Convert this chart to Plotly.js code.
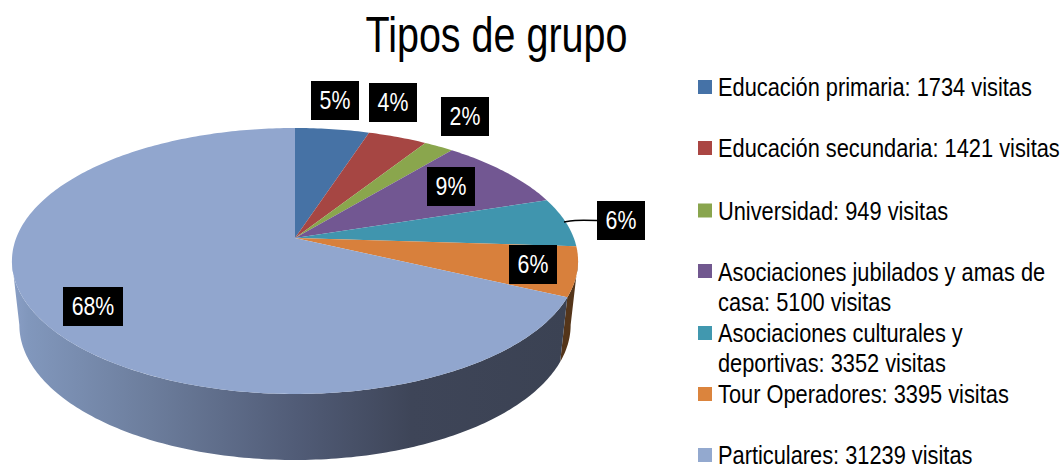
<!DOCTYPE html>
<html>
<head>
<meta charset="utf-8">
<script src="https://cdn.plot.ly/plotly-3.0.1.min.js"></script>
<style>html,body{margin:0;padding:0;background:#fff}#chart{width:1062px;height:464px}</style>
</head>
<body>
<div id="chart"></div>
<script>
// ---- data ----
var chartTitle = 'Tipos de grupo';
var categories = ['Educación primaria', 'Educación secundaria', 'Universidad',
  'Asociaciones jubilados y amas de casa', 'Asociaciones culturales y deportivas',
  'Tour Operadores', 'Particulares'];
var shares = [5, 4, 2, 9, 6, 6, 68];
var visits = [1734, 1421, 949, 5100, 3352, 3395, 31239];
var legendLines = [
  ['Educación primaria: 1734 visitas'],
  ['Educación secundaria: 1421 visitas'],
  ['Universidad: 949 visitas'],
  ['Asociaciones jubilados y amas de', 'casa: 5100 visitas'],
  ['Asociaciones culturales y', 'deportivas: 3352 visitas'],
  ['Tour Operadores: 3395 visitas'],
  ['Particulares: 31239 visitas']
];
// ---- styles and positions ----
var colors = ['#4672A5', '#A64643', '#8AA64D', '#725792', '#4095AE', '#D8803C', '#91A6CE'];
var legendColors = ['#4572A7', '#AA4643', '#89A54E', '#71588F', '#4198AF', '#DB843D', '#93A9CF'];
var FONT = '"Liberation Sans",Arial,sans-serif';
// the reference's type is horizontally condensed
var narrowLegend = 0.855, narrowLabel = 0.82, narrowTitle = 0.79;
var legendFontSize = 25.5, labelFontSize = 26, titleFontSize = 50;
var labelX = [335, 393, 465, 451, 621, 533, 93];
var labelY = [100.5, 102.5, 116.5, 186.5, 220.5, 264.5, 306.5];
var labelW = [48, 48, 48, 48, 48, 48, 60];
var legendSquareY = [87, 148, 210.5, 271, 333, 394, 455];
var legendTextY = [[87], [148], [211], [272, 302], [333, 363], [394], [455]];
var tilt = 0.1729;                                   // perspective of the disc
var topFace = {cx: 295, cy: 238, a: 278.8, b: 129};
var baseFace = {cx: 295, cy: 301.6, a: 271.5, b: 131};

function rim(face, pct) {
  var t = pct * 3.6 * Math.PI / 180, w = 1 + tilt * Math.cos(t);
  return [face.cx + face.a * Math.sin(t) / w, face.cy - face.b * Math.cos(t) / w];
}
function arc(face, from, to) {
  var pts = [], n = Math.max(2, Math.ceil(Math.abs(to - from) * 4));
  for (var i = 0; i <= n; i++) pts.push(rim(face, from + (to - from) * i / n));
  return pts;
}
function polyTrace(pts, extra) {
  var tr = {x: pts.map(function (p) { return p[0]; }), y: pts.map(function (p) { return p[1]; }),
    type: 'scatter', mode: 'none', fill: 'toself', hoverinfo: 'skip', showlegend: false};
  for (var k in extra) tr[k] = extra[k];
  return tr;
}

var traces = [];
// visible wall of the disc, bounded by the share boundaries and the silhouette tangents
var cum = shares.map(function (s, i) { return shares.slice(0, i + 1).reduce(function (a, b) { return a + b; }, 0); });
var silhouetteRight = Math.acos(-tilt) * 180 / Math.PI / 3.6;
var silhouetteLeft = 100 - silhouetteRight;
var orangeEnd = cum[5];
traces.push(polyTrace(arc(topFace, silhouetteRight, orangeEnd).concat(arc(baseFace, orangeEnd, silhouetteRight)),
  {fillcolor: '#54351A'}));
traces.push(polyTrace(arc(topFace, orangeEnd, silhouetteLeft).concat(arc(baseFace, silhouetteLeft, orangeEnd)), {
  fillgradient: {type: 'horizontal', colorscale: [
    [0, '#8A9FC6'], [0.03, '#8197BC'], [0.25, '#6C7D9C'], [0.51, '#515C77'],
    [0.72, '#3E4558'], [1, '#3B4253']]}
}));
// top slices
var start = 0;
shares.forEach(function (s, i) {
  var pts = [[topFace.cx, topFace.cy]].concat(arc(topFace, start, start + s));
  pts.push([topFace.cx, topFace.cy]);
  traces.push(polyTrace(pts, {fillcolor: colors[i], name: categories[i]}));
  start += s;
});
// leader line of the outer label
traces.push({x: [564, 575, 597], y: [222, 220.5, 220.5], type: 'scatter', mode: 'lines',
  line: {color: '#000', width: 1.5, shape: 'spline'}, hoverinfo: 'skip', showlegend: false});
// legend keys
traces.push({x: categories.map(function () { return 705; }), y: legendSquareY, type: 'scatter', mode: 'markers',
  marker: {symbol: 'square', size: 14, color: legendColors, line: {width: 0}},
  text: categories, customdata: visits, hoverinfo: 'skip', showlegend: false});

var annotations = [];
shares.forEach(function (s, i) {
  annotations.push({x: labelX[i], y: labelY[i], xref: 'x', yref: 'y', text: s + '%', showarrow: false,
    xanchor: 'center', yanchor: 'middle', width: labelW[i], height: 39, bgcolor: '#000', borderpad: 0,
    borderwidth: 0, align: 'center', valign: 'middle', font: {family: FONT, size: labelFontSize, color: '#fff'}});
});
legendLines.forEach(function (lines, i) {
  lines.forEach(function (line, j) {
    annotations.push({x: 717, y: legendTextY[i][j], xref: 'x', yref: 'y', text: line, showarrow: false,
      xanchor: 'left', yanchor: 'middle', align: 'left', borderpad: 0,
      font: {family: FONT, size: legendFontSize, color: '#000'}});
  });
});

var layout = {
  width: 1062, height: 464, margin: {l: 0, r: 0, t: 0, b: 0},
  paper_bgcolor: '#fff', plot_bgcolor: '#fff', showlegend: false,
  title: {text: chartTitle, x: 0.4675, xanchor: 'center', y: 0.925, yanchor: 'middle',
    font: {family: FONT, size: titleFontSize, color: '#000'}},
  xaxis: {range: [0, 1062], visible: false, fixedrange: true},
  yaxis: {range: [464, 0], visible: false, fixedrange: true},
  annotations: annotations
};
function condense(el, factor, pivotLeft) {
  var b = el.getBBox();
  var px = pivotLeft ? b.x : b.x + b.width / 2;
  el.setAttribute('transform', (el.getAttribute('transform') || '') +
    ' translate(' + px + ',0) scale(' + factor + ',1) translate(' + (-px) + ',0)');
}
Plotly.newPlot('chart', traces, layout, {displayModeBar: false, staticPlot: true}).then(function (gd) {
  gd.querySelectorAll('text.gtitle').forEach(function (el) { condense(el, narrowTitle, false); });
  gd.querySelectorAll('text.annotation-text').forEach(function (el) {
    var isLabel = /%$/.test(el.textContent);
    condense(el, isLabel ? narrowLabel : narrowLegend, !isLabel);
  });
});
</script>
</body>
</html>
